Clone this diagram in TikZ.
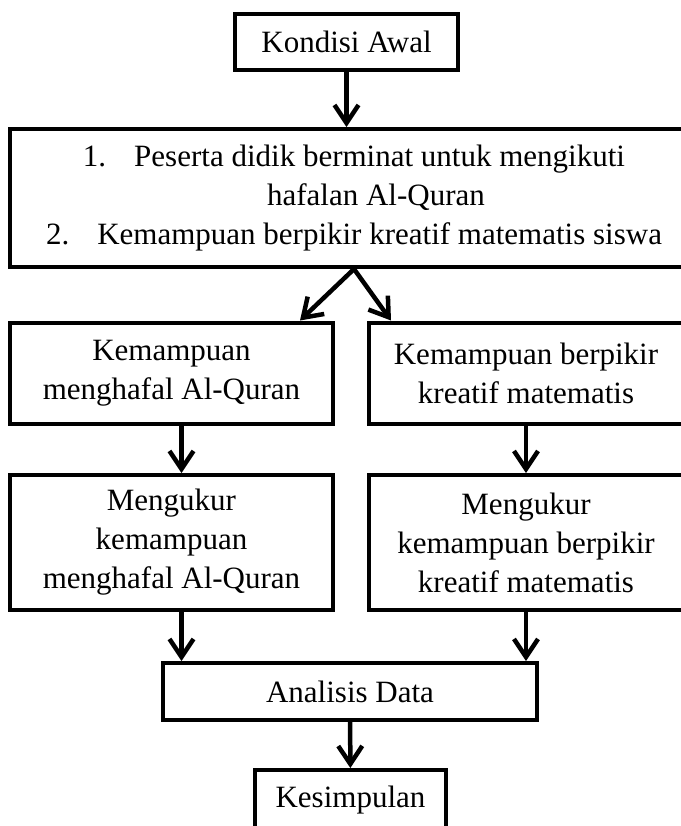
\documentclass[tikz,border=0pt]{standalone}
\usepackage{fontspec}
\setmainfont{Liberation Serif}
\usetikzlibrary{arrows.meta}

\begin{document}
\begin{tikzpicture}[x=0.5pt,y=-0.5pt,
  every node/.style={font=\fontsize{15.5pt}{19.5pt}\selectfont},
  kotak/.style={draw,line width=2pt,align=center,inner sep=0pt},
  panah/.style={line width=2.25pt,-{Straight Barb[length=9pt,width=12pt,line width=2.25pt]}}]
\useasboundingbox (0,0) rectangle (681,826);
    \node[kotak,minimum width=111.5pt,minimum height=28pt] (kondisi) at (346.5,42) {Kondisi Awal};
    \node[kotak,minimum width=344pt,minimum height=69pt] (awal) at (354,198)
        {1.\hspace{14pt}Peserta didik berminat untuk mengikuti\\ \hspace*{22pt}hafalan Al-Quran\\ 2.\hspace{14pt}Kemampuan berpikir kreatif matematis siswa};
    \node[kotak,minimum width=161.5pt,minimum height=50.5pt] (hafal) at (171.5,373) {Kemampuan\\ menghafal Al-Quran};
    \node[kotak,minimum width=157pt,minimum height=50.5pt] (pikir) at (526,373) {Kemampuan berpikir\\ kreatif matematis};
    \node[kotak,minimum width=161.5pt,minimum height=67.5pt] (ukurhafal) at (171.5,542.5) {Mengukur\\ kemampuan\\ menghafal Al-Quran};
    \node[kotak,minimum width=157pt,minimum height=67.5pt] (ukurpikir) at (526,542.5) {Mengukur\\ kemampuan berpikir\\ kreatif matematis};
    \node[kotak,minimum width=187pt,minimum height=28.5pt] (analisis) at (350,691.5) {Analisis Data};
    \node[kotak,minimum width=95.5pt,minimum height=30pt] (simpulan) at (350.5,800) {Kesimpulan};
    \draw[panah] (kondisi) -- (kondisi |- awal.north);
    \draw[panah] (awal.south) -- ([xshift=-17.5pt]hafal.north east);
    \draw[panah] (awal.south) -- ([xshift=12pt]pikir.north west);
    \draw[panah] ([xshift=5pt]hafal.south) -- ([xshift=5pt]ukurhafal.north);
    \draw[panah] (pikir) -- (ukurpikir);
    \draw[panah] ([xshift=5pt]ukurhafal.south) -- ([xshift=5pt]ukurhafal.south |- analisis.north);
    \draw[panah] (ukurpikir) -- (ukurpikir |- analisis.north);
    \draw[panah] (analisis) -- (simpulan);
\end{tikzpicture}
\end{document}
